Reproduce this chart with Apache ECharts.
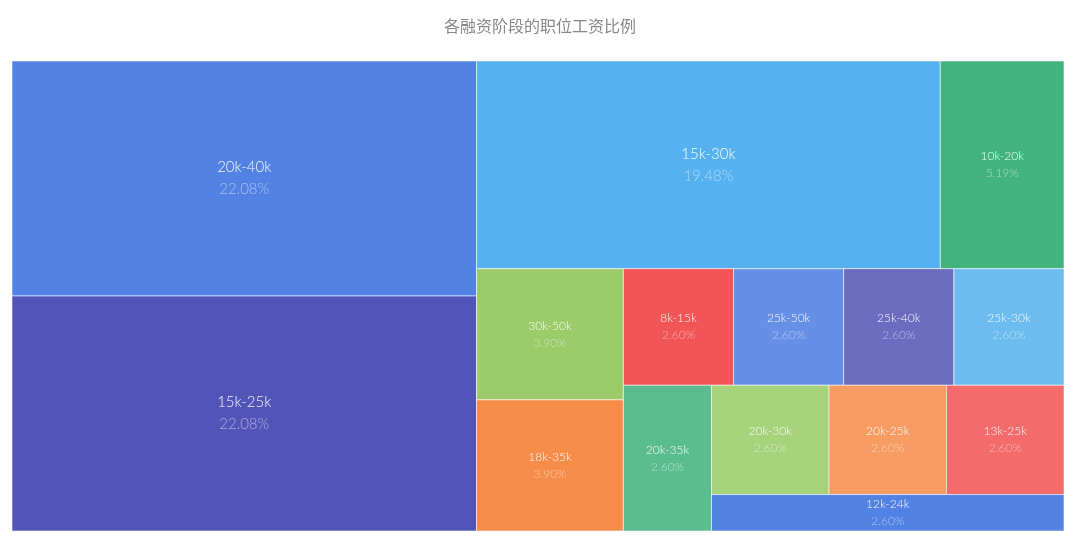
<!DOCTYPE html>
<html>
<head>
<meta charset="utf-8">
<script src="https://cdn.jsdelivr.net/npm/echarts@6/dist/echarts.min.js"></script>
<style>
  html, body { margin: 0; padding: 0; background: #fff; }
  #main { width: 1080px; height: 543px; }
</style>
</head>
<body>
<div id="main"></div>
<script>
  // 薪资区间及职位数量
  var names = ['20k-40k', '15k-25k', '15k-30k', '10k-20k', '30k-50k', '18k-35k', '8k-15k', '25k-50k',
    '25k-40k', '25k-30k', '20k-35k', '20k-30k', '20k-25k', '13k-25k', '12k-24k'];
  var counts = [17, 17, 15, 4, 3, 3, 2, 2, 2, 2, 2, 2, 2, 2, 2];
  var colors = ['#5282e3', '#5254b8', '#55b1ef', '#42b37c', '#9ccb6a', '#f68c4a', '#f25555', '#6690e6',
    '#6b6bc0', '#6dbcf0', '#5bbd8e', '#a6d27b', '#f79c62', '#f36b6b', '#5282e3'];

  var total = counts.reduce(function (a, b) { return a + b; }, 0);

  var grid = {left: 12, right: 16, top: 61, bottom: 12};
  var el = document.getElementById('main');
  // 布局空间和绘图区同比例
  var W = el.clientWidth - grid.left - grid.right;
  var H = el.clientHeight - grid.top - grid.bottom;

  function sum(arr) { return arr.reduce(function (a, b) { return a + b; }, 0); }

  // 条带的最差长宽比
  function worst(row, len, k) {
    var t = sum(row) * k / len;
    var w = 0;
    row.forEach(function (v) {
      var l = v * k / t;
      w = Math.max(w, t / l, l / t);
    });
    return w;
  }

  // squarified 布局，条带方向交替（先竖后横）
  function squarify(vals, w, h) {
    var k = w * h / sum(vals);
    var r = {x: 0, y: 0, w: w, h: h};
    var out = [], i = 0, vertical = true;
    while (i < vals.length) {
      var row = [], best = Infinity;
      while (i + row.length < vals.length) {
        var cand = row.concat([vals[i + row.length]]);
        var s = worst(cand, vertical ? r.h : r.w, k);
        if (row.length === 0 || s <= best) { row = cand; best = s; } else break;
      }
      var t = sum(row) * k / (vertical ? r.h : r.w);
      var pos = vertical ? r.y : r.x;
      row.forEach(function (v) {
        var l = v * k / t;
        if (vertical) out.push([r.x, pos, t, l]);
        else out.push([pos, r.y, l, t]);
        pos += l;
      });
      if (vertical) { r.x += t; r.w -= t; } else { r.y += t; r.h -= t; }
      i += row.length;
      vertical = !vertical;
    }
    return out;
  }

  var cells = squarify(counts, W, H).map(function (c, i) { return c.concat([i]); });

  var myChart = echarts.init(el);
  var option = {
    title: {
      text: '各融资阶段的职位工资比例',
      left: 'center',
      top: 13,
      textStyle: { fontSize: 16, fontWeight: 'normal', color: '#888', fontFamily: 'Noto Sans CJK SC' }
    },
    grid: grid,
    xAxis: { type: 'value', min: 0, max: W, show: false },
    yAxis: { type: 'value', min: 0, max: H, inverse: true, show: false },
    series: [{
      type: 'custom',
      animation: false,
      renderItem: function (params, api) {
        var i = api.value(4);
        var p0 = api.coord([api.value(0), api.value(1)]);
        var p1 = api.coord([api.value(0) + api.value(2), api.value(1) + api.value(3)]);
        var big = counts[i] >= 15;
        var fs = big ? 15 : 12, lh = big ? 22 : 17;
        return {
          type: 'rect',
          shape: { x: p0[0], y: p0[1], width: p1[0] - p0[0], height: p1[1] - p0[1] },
          style: { fill: colors[i], stroke: 'rgba(255,255,255,0.55)', lineWidth: 1 },
          textContent: {
            style: {
              text: '{n|' + names[i] + '}\n{p|' + (counts[i] / total * 100).toFixed(2) + '%}',
              align: 'center',
              verticalAlign: 'middle',
              rich: {
                n: { fontSize: fs, lineHeight: lh, fill: 'rgba(255,255,255,0.95)', fontFamily: 'Lato', fontWeight: 300, align: 'center' },
                p: { fontSize: fs, lineHeight: lh, fill: 'rgba(255,255,255,0.5)', fontFamily: 'Lato', fontWeight: 300, align: 'center' }
              }
            }
          },
          textConfig: { position: 'inside' }
        };
      },
      encode: { x: 0, y: 1 },
      data: cells
    }]
  };
  myChart.setOption(option);
</script>
</body>
</html>
